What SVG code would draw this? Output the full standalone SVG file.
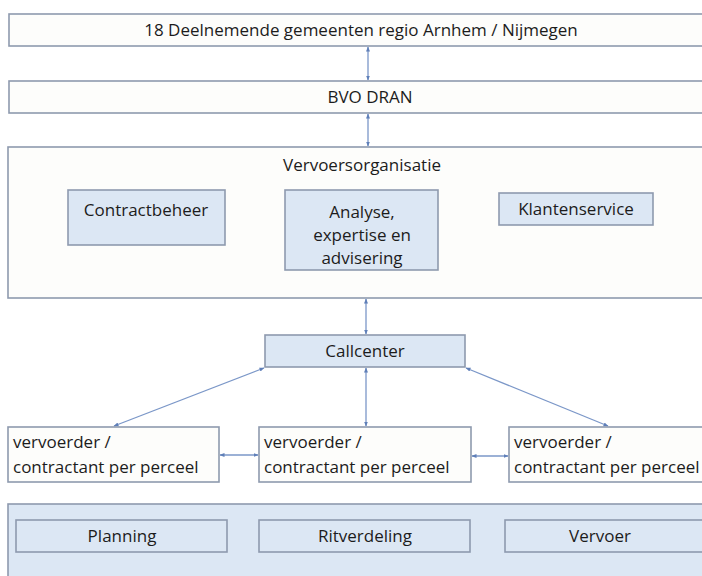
<svg xmlns="http://www.w3.org/2000/svg" width="702" height="576" viewBox="0 0 702 576">
<style>
.box{fill:#fdfdfb;stroke:#8e9aae;stroke-width:1.6}
.blue{fill:#dce7f4;stroke:#8e9aae;stroke-width:1.6}
.t{font-family:"Open Sans","Liberation Sans",sans-serif;font-size:17px;fill:#1c1c1c}
.c{text-anchor:middle}
.con{stroke:#7b97c8;stroke-width:1.3;fill:none;marker-start:url(#ah);marker-end:url(#ah)}
</style>
<defs>
<marker id="ah" viewBox="0 0 10 10" refX="9" refY="5" markerWidth="5" markerHeight="5" orient="auto-start-reverse" markerUnits="userSpaceOnUse">
<path d="M0,1 L10,5 L0,9 z" fill="#5f7fb8"/>
</marker>
</defs>
<rect width="702" height="576" fill="#ffffff"/>
<g id="connectors">
<line class="con" x1="368" y1="47" x2="368" y2="80"/>
<line class="con" x1="368" y1="114" x2="368" y2="146"/>
<line class="con" x1="366" y1="299" x2="366" y2="334"/>
<line class="con" x1="264" y1="368" x2="114" y2="426"/>
<line class="con" x1="366" y1="368" x2="366" y2="426"/>
<line class="con" x1="466" y1="368" x2="608" y2="426"/>
<line class="con" x1="220" y1="455" x2="258" y2="455"/>
<line class="con" x1="472" y1="456" x2="508" y2="456"/>
</g>
<g id="gemeenten">
<rect class="box" x="9" y="14" width="710" height="32"/>
<text class="t c" x="361" y="36">18 Deelnemende gemeenten regio Arnhem / Nijmegen</text>
</g>
<g id="bvo">
<rect class="box" x="9" y="81" width="710" height="32"/>
<text class="t c" x="370" y="103">BVO DRAN</text>
</g>
<g id="vervoersorganisatie">
<rect class="box" x="8" y="147" width="711" height="151"/>
<text class="t c" x="362" y="171">Vervoersorganisatie</text>
</g>
<g id="contractbeheer">
<rect class="blue" x="68" y="190" width="157" height="55"/>
<text class="t c" x="146" y="216">Contractbeheer</text>
</g>
<g id="analyse">
<rect class="blue" x="285" y="190" width="153" height="80"/>
<text class="t c" x="362" y="218">Analyse,</text>
<text class="t c" x="362" y="241">expertise en</text>
<text class="t c" x="362" y="264">advisering</text>
</g>
<g id="klantenservice">
<rect class="blue" x="499" y="193" width="154" height="32"/>
<text class="t c" x="576" y="215">Klantenservice</text>
</g>
<g id="callcenter">
<rect class="blue" x="265" y="335" width="200" height="32"/>
<text class="t c" x="365" y="357">Callcenter</text>
</g>
<g id="vervoerder1">
<rect class="box" x="8" y="427" width="211" height="55"/>
<text class="t" x="13" y="448">vervoerder /</text>
<text class="t" x="13" y="473">contractant per perceel</text>
</g>
<g id="vervoerder2">
<rect class="box" x="259" y="427" width="212" height="55"/>
<text class="t" x="264" y="448">vervoerder /</text>
<text class="t" x="264" y="473">contractant per perceel</text>
</g>
<g id="vervoerder3">
<rect class="box" x="509" y="427" width="210" height="55"/>
<text class="t" x="514" y="448">vervoerder /</text>
<text class="t" x="514" y="473">contractant per perceel</text>
</g>
<g id="uitvoering">
<rect class="blue" x="8" y="504" width="711" height="90"/>
</g>
<g id="planning">
<rect class="blue" x="16" y="520" width="211" height="32"/>
<text class="t c" x="122" y="542">Planning</text>
</g>
<g id="ritverdeling">
<rect class="blue" x="259" y="520" width="211" height="32"/>
<text class="t c" x="365" y="542">Ritverdeling</text>
</g>
<g id="vervoer">
<rect class="blue" x="505" y="520" width="214" height="32"/>
<text class="t c" x="600" y="542">Vervoer</text>
</g>
</svg>
